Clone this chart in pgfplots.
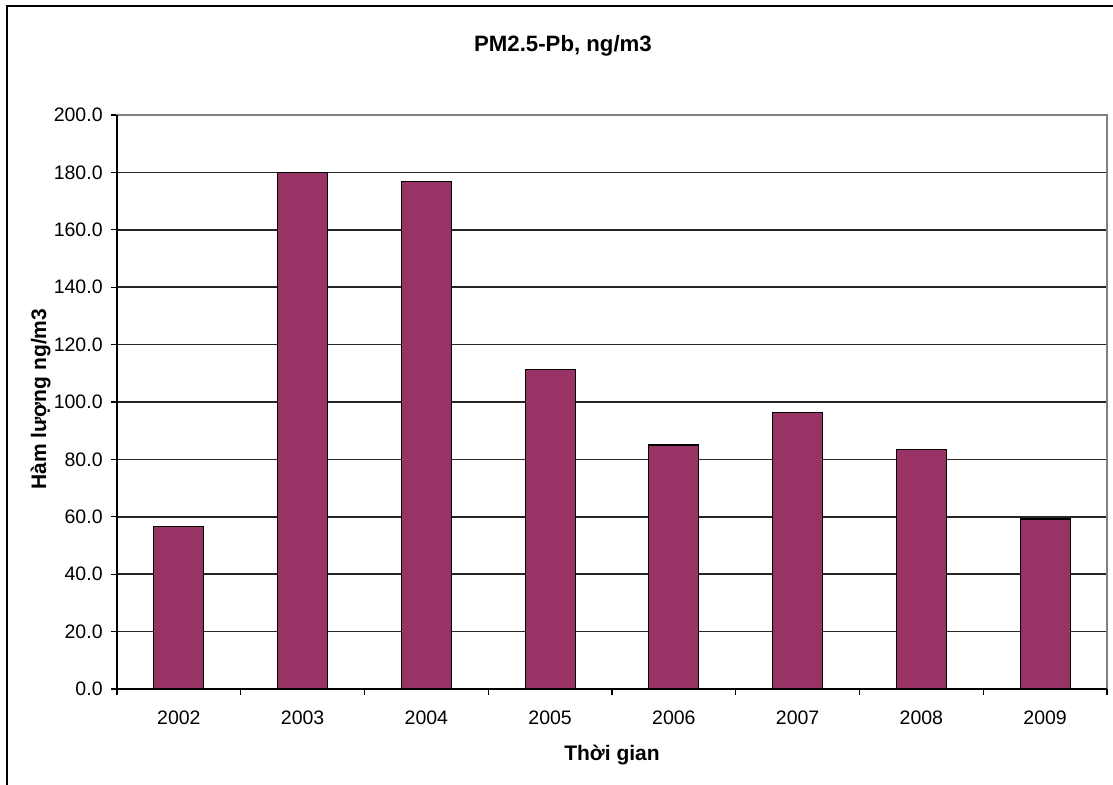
\documentclass[border=0pt]{standalone}
\usepackage{pgfplots}
\pgfplotsset{compat=1.18}
\usepackage{fontspec}
\setmainfont{Liberation Sans}
\definecolor{barplum}{HTML}{993366}
\definecolor{boxgray}{HTML}{808080}

\pgfplotstableread{
idx year value
0 2002 56.6
1 2003 180.0
2 2004 176.8
3 2005 111.4
4 2006 85.0
5 2007 96.3
6 2008 83.4
7 2009 59.2
}\pbdata

\begin{document}
\begin{tikzpicture}
\useasboundingbox (0,0) rectangle (556.5pt,392.5pt);
% chart frame
\draw[line width=1pt, black] (3.5pt,-2pt) -- (3.5pt,389.5pt) -- (560pt,389.5pt);
\begin{axis}[
  at={(58.5pt,48pt)}, anchor=south west,
  scale only axis, width=495pt, height=287pt,
  xmin=-0.5, xmax=7.5, ymin=0, ymax=200,
  ytick={0,20,...,200},
  xtick={0,...,7},
  xticklabels={2002,2003,2004,2005,2006,2007,2008,2009},
  xtick pos=bottom, ytick pos=left,
  x tick style={draw=none},
  extra x ticks={-0.5,0.5,...,7.5},
  extra x tick labels={},
  extra x tick style={x tick style={draw=black, line width=0.6pt}, xtick pos=bottom},
  tick align=outside,
  major tick length=3pt,
  y tick style={black, line width=0.6pt},
  ymajorgrids,
  grid style={black!85, line width=0.75pt},
  axis line style={boxgray, line width=0.6pt},
  tick label style={font=\fontsize{9.75}{11}\selectfont},
  /pgf/number format/.cd, fixed, fixed zerofill, precision=1, assume math mode=true,
  /pgfplots/.cd,
  yticklabel style={anchor=east, inner sep=0pt, xshift=-4pt},
  xticklabel style={anchor=base, inner sep=0pt, yshift=-15pt},
  title={PM2.5-Pb, ng/m3},
  title style={font=\bfseries\fontsize{11.1}{13}\selectfont, at={(axis description cs:0.4505,1.0993)}, anchor=center},
  xlabel={Thời gian},
  xlabel style={font=\bfseries\fontsize{10.5}{12}\selectfont, at={(axis description cs:0.5,-0.1237)}, anchor=base},
  ylabel={Hàm lượng ng/m3},
  ylabel style={font=\bfseries\fontsize{10.5}{12}\selectfont, at={(axis description cs:-0.0717,0.505)}, anchor=base, rotate=0},
  clip=false,
]
\addplot[ybar, bar width=25pt, fill=barplum, draw=black, line width=0.6pt] table[x=idx, y=value] {\pbdata};
\draw[black, line width=0.6pt] (rel axis cs:0,1) -- (rel axis cs:0,0) -- (rel axis cs:1,0);
\end{axis}
\end{tikzpicture}
\end{document}
